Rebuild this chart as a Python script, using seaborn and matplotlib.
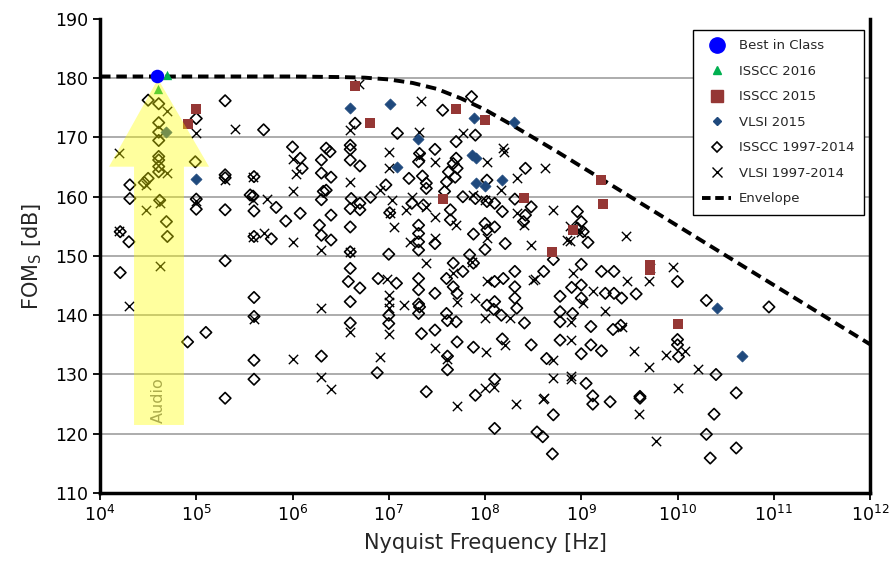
import numpy as np
import pandas as pd
import matplotlib
matplotlib.use("Agg")
import matplotlib.pyplot as plt
import seaborn as sns
from matplotlib.lines import Line2D
from matplotlib.patches import Polygon
from matplotlib.ticker import NullLocator, LogFormatterSciNotation

# ---- survey data: (log10 Nyquist frequency [Hz], FOM_S [dB]) ----
best_in_class = [(4.59, 180.3)]

isscc_2016 = [(4.70, 180.6), (4.60, 178.2)]

isscc_2015 = [(5.00, 174.8), (4.91, 172.2), (6.65, 178.7), (6.81, 172.5),
              (7.70, 174.8), (8.00, 172.9), (7.56, 159.6), (8.40, 159.8),
              (8.70, 150.7), (9.20, 162.8), (9.23, 158.7), (8.91, 154.4),
              (9.71, 148.5), (9.71, 147.6), (10.01, 138.5)]

vlsi_2015 = [(4.69, 170.9), (5.00, 163.0), (6.60, 175.0), (7.01, 175.7),
             (7.30, 169.7), (7.09, 165.1), (7.89, 173.3), (8.30, 172.7),
             (7.87, 167.0), (7.91, 166.6), (7.91, 162.3), (8.00, 161.8),
             (8.18, 162.9), (10.41, 141.3), (10.67, 133.1)]

isscc_old = [
    (4.50, 176.3), (4.61, 175.7), (5.00, 173.2), (5.30, 176.2), (5.70, 171.3),
    (4.61, 172.5), (4.61, 170.9), (4.61, 169.5), (4.61, 166.8), (4.61, 166.2),
    (4.61, 165.1), (4.61, 164.2), (4.50, 163.1), (4.46, 162.4), (4.99, 165.9),
    (4.31, 162.0), (4.31, 159.7), (4.62, 159.4), (4.21, 154.1), (4.30, 152.4),
    (4.69, 155.8), (4.70, 153.3), (5.00, 159.6), (5.00, 157.9), (5.30, 163.7),
    (5.30, 163.2), (5.30, 157.8), (5.30, 149.2), (5.60, 163.4), (5.59, 160.1),
    (5.56, 160.3), (5.60, 157.6), (5.83, 158.2), (5.93, 155.9), (6.08, 157.2),
    (6.00, 168.4), (6.08, 166.5), (6.10, 164.8), (5.60, 153.3), (5.78, 152.9),
    (4.21, 147.2), (5.30, 126.0), (5.60, 143.0), (5.60, 139.8), (4.91, 135.5),
    (5.10, 137.1), (5.60, 132.4), (5.60, 129.2),
    (6.65, 172.4), (7.09, 170.7), (6.35, 168.2), (6.39, 167.6), (6.60, 168.7),
    (6.60, 168.0), (6.60, 166.2), (6.70, 165.2), (6.30, 166.2), (6.30, 164.0),
    (6.40, 163.3), (6.32, 160.9), (6.35, 161.1), (6.30, 159.5), (6.61, 159.7),
    (6.70, 158.9), (6.60, 158.0), (6.70, 157.8), (6.81, 159.9), (6.97, 162.0),
    (7.21, 163.1), (7.31, 165.9), (7.32, 167.3), (7.35, 163.5), (7.39, 161.4),
    (6.28, 155.2), (6.30, 153.5), (6.40, 152.7), (6.40, 156.9), (6.60, 154.9),
    (7.01, 157.3), (7.24, 158.9), (7.31, 155.2), (7.31, 153.8), (7.31, 152.4),
    (7.31, 151.0), (6.60, 150.7), (6.60, 147.9), (6.58, 145.7), (6.70, 144.6),
    (6.89, 146.2), (7.08, 145.4), (7.00, 150.3), (7.31, 146.2),
    (6.60, 142.3), (6.60, 138.7), (7.00, 140.0), (7.00, 138.6), (7.31, 144.3),
    (7.31, 141.9), (7.31, 140.3), (7.34, 136.9), (6.30, 133.1), (6.88, 130.3),
    (7.39, 127.1),
    (7.86, 176.9), (7.56, 174.6), (7.70, 169.3), (7.90, 170.4), (7.48, 168.0),
    (7.70, 166.5), (7.67, 165.6), (7.62, 164.2), (7.69, 163.3), (7.71, 164.8),
    (7.60, 162.5), (7.58, 160.9), (7.39, 162.3), (7.77, 160.0), (7.90, 159.7),
    (8.02, 162.8), (8.02, 159.2), (8.10, 158.9), (8.18, 157.5), (8.31, 159.6),
    (8.42, 164.8), (8.48, 158.3), (8.42, 156.9), (8.40, 155.8), (7.64, 157.8),
    (7.64, 156.1), (7.36, 158.6), (7.48, 152.1), (7.88, 153.7), (8.00, 155.5),
    (8.02, 154.4), (8.10, 154.9), (8.21, 152.1), (8.00, 151.1), (7.88, 148.8),
    (7.84, 150.2), (7.77, 147.4), (7.67, 148.8), (7.60, 146.2), (7.67, 144.8),
    (8.31, 147.4), (8.19, 146.2), (8.10, 145.7), (8.61, 147.4), (8.31, 144.8),
    (8.71, 149.4),
    (7.48, 143.7), (7.71, 143.7), (7.32, 141.4), (7.60, 140.3), (7.61, 139.1),
    (7.70, 138.9), (7.48, 137.5), (7.71, 135.5), (7.88, 134.6), (7.61, 133.1),
    (7.61, 130.8), (7.90, 126.5), (8.10, 129.2), (8.02, 141.7), (8.10, 142.3),
    (8.09, 141.0), (8.17, 140.0), (8.31, 142.9), (8.33, 141.2), (8.41, 138.7),
    (8.18, 136.0), (8.48, 135.0), (8.78, 143.2), (8.78, 140.6), (8.78, 138.9),
    (8.78, 135.8), (8.64, 132.7), (8.10, 120.9), (8.54, 120.3), (8.60, 119.5),
    (8.71, 123.2), (8.70, 116.6),
    (8.96, 157.5), (9.00, 155.8), (8.96, 154.7), (9.02, 154.1), (9.07, 152.3),
    (9.00, 148.6), (9.21, 147.4), (9.34, 147.4), (10.00, 145.7), (8.90, 144.7),
    (9.00, 145.1), (9.00, 142.9), (9.25, 143.7), (9.34, 143.7), (9.42, 142.9),
    (9.57, 143.6), (10.30, 142.5), (10.95, 141.4), (8.91, 140.3), (9.10, 138.1),
    (9.33, 137.6), (9.41, 138.3), (9.00, 133.5), (9.10, 135.0), (9.21, 134.0),
    (10.00, 135.9), (10.00, 135.0), (10.01, 133.0), (9.05, 128.5), (9.12, 126.4),
    (9.12, 125.0), (9.30, 125.4), (9.61, 126.0), (9.61, 126.3), (10.40, 130.0),
    (10.61, 126.9), (10.38, 123.3), (10.30, 119.9), (10.61, 117.6), (10.34, 115.9),
]

vlsi_old = [
    (4.20, 167.4), (4.70, 174.5), (5.00, 170.8), (5.40, 171.5), (6.00, 166.3),
    (6.04, 163.8), (6.00, 161.0), (4.70, 164.0), (4.48, 161.9), (4.48, 157.8),
    (4.62, 158.9), (5.00, 159.2), (5.30, 162.8), (5.59, 163.4), (5.73, 159.7),
    (5.59, 153.2), (5.70, 153.8), (6.00, 152.4), (4.20, 154.3), (4.62, 148.3),
    (4.30, 141.6), (5.59, 159.4), (6.00, 132.6), (5.60, 139.3),
    (6.60, 171.3), (7.34, 176.2), (7.31, 171.0), (7.00, 167.6), (7.00, 164.8),
    (6.60, 162.5), (6.91, 161.1), (7.03, 159.5), (7.01, 157.2), (7.05, 154.9),
    (7.18, 157.8), (7.24, 160.0), (6.30, 151.0), (6.60, 150.7), (6.98, 146.2),
    (7.32, 166.8), (7.22, 152.4), (7.39, 158.3), (6.69, 179.0),
    (6.30, 141.2), (6.60, 137.2), (7.00, 143.4), (7.00, 142.3), (7.00, 141.2),
    (7.00, 136.9), (7.16, 141.7), (6.30, 129.6), (6.40, 127.5), (6.91, 132.9),
    (7.77, 170.7), (8.19, 168.2), (8.20, 167.6), (8.02, 165.9), (7.48, 165.9),
    (8.33, 163.1), (8.62, 164.8), (8.17, 161.1), (7.88, 160.3), (8.00, 159.5),
    (8.33, 157.2), (8.40, 155.2), (8.71, 157.8), (7.48, 156.6), (7.70, 155.2),
    (7.48, 153.0), (8.02, 153.0), (8.48, 151.9), (7.39, 148.8), (7.67, 147.1),
    (7.86, 149.0), (8.02, 145.7), (8.52, 146.2), (8.85, 152.7),
    (7.90, 142.9), (8.00, 139.5), (7.71, 142.3), (7.48, 134.4), (7.60, 132.7),
    (8.01, 133.8), (8.26, 139.5), (8.21, 135.0), (8.71, 132.4), (8.71, 129.4),
    (8.00, 127.7), (8.09, 127.9), (7.71, 124.7), (8.32, 125.1), (8.60, 125.8),
    (8.50, 146.0),
    (8.88, 155.1), (9.00, 154.1), (8.88, 152.6), (9.47, 153.3), (8.91, 147.2),
    (9.12, 144.1), (9.02, 142.0), (9.25, 140.8), (9.48, 145.7), (9.70, 145.7),
    (9.71, 148.0), (9.95, 148.2), (8.89, 135.9), (9.42, 138.1), (9.55, 134.0),
    (9.70, 131.2), (9.88, 133.3), (10.08, 134.0), (10.21, 131.0), (10.01, 127.8),
    (8.89, 129.2), (8.89, 129.8), (8.61, 126.0), (9.60, 123.4), (9.78, 118.7),
    (8.89, 138.9),
]

# Envelope of the state of the art
envelope_logf = [4.0, 5.0, 6.0, 6.5, 6.75, 7.0, 7.25, 7.5, 7.75, 8.0, 8.25,
                 8.5, 8.75, 9.0, 9.5, 10.0, 10.5, 11.0, 11.5, 12.0]
envelope_db = [180.3, 180.3, 180.3, 180.2, 180.1, 179.8, 179.2, 178.2, 176.6,
               174.7, 172.4, 170.0, 167.6, 165.1, 160.1, 155.1, 150.1, 145.1,
               140.1, 135.1]

legend_labels = ["Best in Class", "ISSCC 2016", "ISSCC 2015", "VLSI 2015",
                 "ISSCC 1997-2014", "VLSI 1997-2014", "Envelope"]

y_ticks = [110, 120, 130, 140, 150, 160, 170, 180, 190]
x_decades = [4, 5, 6, 7, 8, 9, 10, 11, 12]


def to_frame(points):
    arr = np.array(points, dtype=float)
    return pd.DataFrame({"f": 10.0 ** arr[:, 0], "fom": arr[:, 1]})


sns.set_theme(style="white")
plt.rcParams["font.family"] = ["DejaVu Sans"]
plt.rcParams["mathtext.fontset"] = "dejavusans"

fig = plt.figure(figsize=(8.96, 5.67), dpi=100)
ax = fig.add_axes([100 / 896, 1 - 493 / 567, 770 / 896, 474 / 567])
ax.set_xscale("log")
ax.set_xlim(1e4, 1e12)
ax.set_ylim(110, 190)

RED = "#953735"
NAVY = "#1F497D"
GREEN = "#00B050"
BLUE = "#0000FF"

# horizontal gridlines between the bottom spine and the open top
for v in y_ticks[1:-1]:
    ax.axhline(v, color="#A6A6A6", linewidth=1.3, zorder=1)

sns.scatterplot(data=to_frame(isscc_old), x="f", y="fom", ax=ax, marker="D",
                s=34, facecolor="none", edgecolor="black", linewidth=1.2,
                zorder=3)
sns.scatterplot(data=to_frame(vlsi_old), x="f", y="fom", ax=ax, marker="x",
                s=45, color="black", linewidth=1.0, zorder=3)

env = pd.DataFrame({"f": 10.0 ** np.array(envelope_logf), "fom": envelope_db})
sns.lineplot(data=env, x="f", y="fom", ax=ax, color="black", linewidth=2.8,
             linestyle=(0, (2.7, 1.5)), zorder=4)

sns.scatterplot(data=to_frame(vlsi_2015), x="f", y="fom", ax=ax, marker="D",
                s=32, color=NAVY, edgecolor=NAVY, linewidth=0.5, zorder=5)
sns.scatterplot(data=to_frame(isscc_2015), x="f", y="fom", ax=ax, marker="s",
                s=60, color=RED, edgecolor=RED, linewidth=0, zorder=5)
sns.scatterplot(data=to_frame(isscc_2016), x="f", y="fom", ax=ax, marker="^",
                s=45, color=GREEN, edgecolor=GREEN, linewidth=0, zorder=6)

# "Audio" band arrow (translucent overlay)
arrow = Polygon([(0.0442, 0.1435), (0.109, 0.1435), (0.109, 0.6884),
                 (0.1416, 0.6884), (0.0753, 0.8734), (0.0117, 0.6884),
                 (0.0442, 0.6884)], closed=True, transform=ax.transAxes,
                facecolor="#FFFF00", edgecolor="none", alpha=0.38, zorder=7)
ax.add_patch(arrow)
ax.text(0.0753, 0.196, "Audio", transform=ax.transAxes, rotation=90,
        ha="center", va="center", fontsize=11.5, color="#7a7a7a", zorder=6)

sns.scatterplot(data=to_frame(best_in_class), x="f", y="fom", ax=ax,
                marker="o", s=95, color=BLUE, edgecolor=BLUE, linewidth=0,
                zorder=8)

# axes styling
ax.set_xlim(1e4, 1e12)
ax.set_ylim(110, 190)
ax.set_yticks(y_ticks)
ax.set_xticks([10.0 ** k for k in x_decades])
ax.xaxis.set_major_formatter(LogFormatterSciNotation())
ax.xaxis.set_minor_locator(NullLocator())
ax.grid(False)
ax.tick_params(axis="both", which="major", bottom=True, left=True,
               direction="out", length=5, width=1.3, labelsize=12.5,
               colors="black")
for side in ("left", "bottom", "right"):
    ax.spines[side].set_visible(True)
    ax.spines[side].set_color("black")
    ax.spines[side].set_linewidth(2.5)
ax.spines["top"].set_visible(False)

ax.set_xlabel("Nyquist Frequency [Hz]", fontsize=15, labelpad=6)
ax.set_ylabel(r"FOM$_\mathregular{S}$ [dB]", fontsize=15, labelpad=8)

handles = [
    Line2D([], [], ls="none", marker="o", color=BLUE, markersize=11),
    Line2D([], [], ls="none", marker="^", color=GREEN, markersize=6),
    Line2D([], [], ls="none", marker="s", color=RED, markersize=8),
    Line2D([], [], ls="none", marker="D", color=NAVY, markersize=4.5),
    Line2D([], [], ls="none", marker="D", markerfacecolor="none",
           markeredgecolor="black", markeredgewidth=1.2, markersize=5),
    Line2D([], [], ls="none", marker="x", color="black", markersize=7,
           markeredgewidth=1.0),
    Line2D([], [], color="black", linewidth=2.8, linestyle=(0, (2.2, 1.2))),
]
leg = ax.legend(handles, legend_labels, loc="upper right",
                bbox_to_anchor=(0.992, 0.977), borderaxespad=0, fontsize=9.5,
                frameon=True, fancybox=False, framealpha=1, edgecolor="black",
                handlelength=2.2, borderpad=0.7, labelspacing=0.95,
                handletextpad=0.6)
leg.get_frame().set_linewidth(1.0)
leg.set_zorder(10)

fig.savefig("out.png", dpi=100)
